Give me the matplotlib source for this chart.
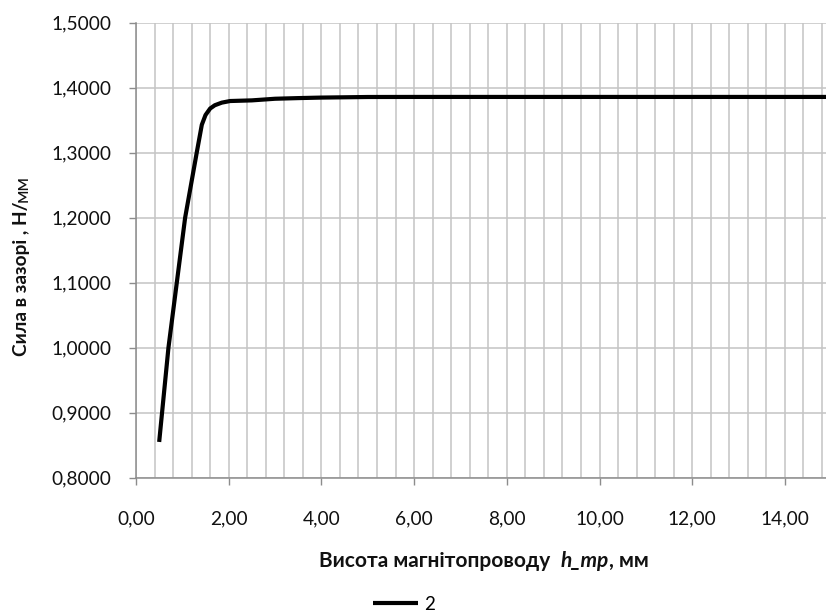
import matplotlib
matplotlib.use('Agg')
import matplotlib.pyplot as plt
from matplotlib.ticker import MultipleLocator, FuncFormatter
from matplotlib.offsetbox import TextArea, HPacker, AnchoredOffsetbox

# ---- data ----
h_mp = [0.5, 0.7, 0.88, 1.06, 1.31, 1.42, 1.5, 1.6, 1.7, 1.85, 2.03, 2.5, 3.0, 3.5, 4.0,
        5.0, 6.0, 8.0, 10.0, 12.0, 14.0, 15.0]
force = [0.855, 1.0, 1.1, 1.2, 1.3, 1.343, 1.358, 1.368, 1.373, 1.377, 1.3795, 1.3805,
         1.383, 1.384, 1.3848, 1.3857, 1.3858, 1.3858, 1.3858, 1.3858, 1.3858, 1.3858]
series_label = "2"
x_ticks = [0, 2, 4, 6, 8, 10, 12, 14]
y_ticks = [0.8, 0.9, 1.0, 1.1, 1.2, 1.3, 1.4, 1.5]

W, H = 826, 614
fig = plt.figure(figsize=(W / 100, H / 100), dpi=100)
plt.rcParams['font.family'] = ['Lato', 'DejaVu Sans']

left, right, top, bottom = 136, 826, 22.7, 477.7
ax = fig.add_axes([left / W, 1 - bottom / H, (right - left) / W, (bottom - top) / H])

ax.plot(h_mp, force, color='black', lw=3.0, solid_capstyle='butt', solid_joinstyle='round', zorder=3)

ax.set_xlim(0, (right - left) / 46.35)
ax.set_ylim(0.8, 1.5)
ax.set_xticks(x_ticks)
ax.set_yticks(y_ticks)
ax.xaxis.set_minor_locator(MultipleLocator(0.4))
ax.xaxis.set_major_formatter(FuncFormatter(lambda v, p: f"{v:.2f}".replace('.', ',')))
ax.yaxis.set_major_formatter(FuncFormatter(lambda v, p: f"{v:.4f}".replace('.', ',')))

gc = '#c4c4c4'
ax.grid(True, which='major', axis='y', color=gc, lw=1.1)
ax.grid(True, which='both', axis='x', color=gc, lw=1.1)
ax.set_axisbelow(True)

for s in ['top', 'right']:
    ax.spines[s].set_visible(False)
for s in ['left', 'bottom']:
    ax.spines[s].set_color('#8c8c8c')
    ax.spines[s].set_linewidth(1.1)
    ax.spines[s].set_zorder(2.5)

ax.tick_params(axis='x', which='major', direction='out', length=5.2, width=1.0,
               color='#8c8c8c', pad=18.5, labelsize=13.8, labelcolor='#111111')
ax.tick_params(axis='x', which='minor', length=0)
ax.tick_params(axis='y', which='major', direction='out', length=5.2, width=1.0,
               color='#8c8c8c', pad=12.5, labelsize=13.8, labelcolor='#111111')

# x label with bold italic part
fs_x = 15
parts = [TextArea("Висота магнітопроводу  ", textprops=dict(fontsize=fs_x, fontweight='bold', color='#111111')),
         TextArea("h_mp", textprops=dict(fontsize=fs_x, fontweight='bold', fontstyle='italic', color='#111111')),
         TextArea(", мм", textprops=dict(fontsize=fs_x, fontweight='bold', color='#111111'))]
box = HPacker(children=parts, align='baseline', pad=0, sep=0)
ab = AnchoredOffsetbox(loc='center', child=box, frameon=False, pad=0, borderpad=0,
                       bbox_to_anchor=(484 / W, 1 - 561 / H), bbox_transform=fig.transFigure)
fig.add_artist(ab)

# y label: bold part + regular "мм"
yl_x = 22 / W
yl_y0 = 1 - 356 / H
t1 = fig.text(yl_x, yl_y0, "Сила в зазорі , Н/", rotation=90, rotation_mode='anchor',
              ha='left', va='center', fontsize=13.8, fontweight='bold', color='#111111')
fig.canvas.draw()
bb = t1.get_window_extent()
t2 = fig.text(yl_x, yl_y0 + bb.height / H, "мм", rotation=90, rotation_mode='anchor',
              ha='left', va='center', fontsize=13.8, color='#111111')

# legend
fig.legend(handles=ax.get_lines(), labels=[series_label], loc='center',
           bbox_to_anchor=(404 / W, 1 - 604 / H), frameon=False, fontsize=13.5,
           handlelength=2.4, handletextpad=0.3, borderpad=0, borderaxespad=0)

fig.savefig('out.png', dpi=100)
